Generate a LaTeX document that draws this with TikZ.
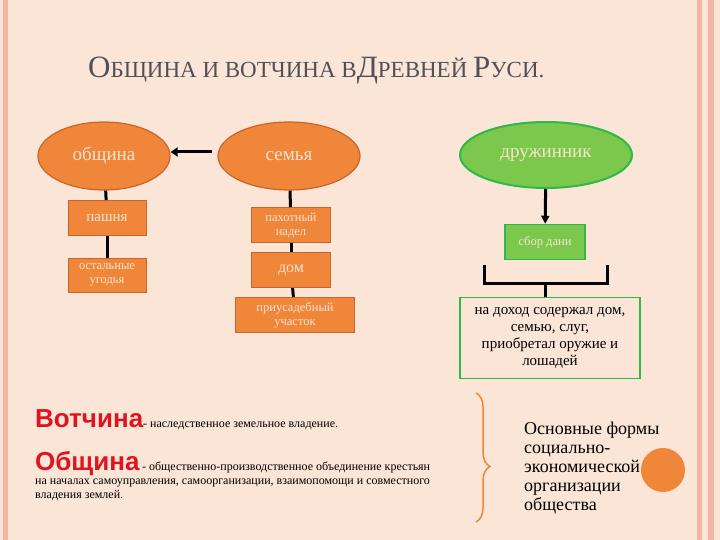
\documentclass[tikz,border=0pt]{standalone}
\usepackage{fontspec}
\setmainfont{Liberation Serif}
\newfontfamily\arialb{Liberation Sans}
\usetikzlibrary{shapes.geometric,arrows.meta,decorations.pathreplacing}
\definecolor{bg}{HTML}{FBE5D6}
\definecolor{pinkb}{HTML}{F4B6A4}
\definecolor{orf}{HTML}{F0863A}
\definecolor{ore}{HTML}{C8652C}
\definecolor{ort}{HTML}{FBE3CF}
\definecolor{grf}{HTML}{7CC84C}
\definecolor{gre}{HTML}{2CB84A}
\definecolor{ttl}{HTML}{505058}
\definecolor{redt}{HTML}{E0141E}
\tikzset{
  oell/.style={ellipse,draw=ore,line width=1.2pt,fill=orf,text=ort,font=\fontsize{19}{21}\selectfont,inner sep=0pt},
  obox/.style={rectangle,draw=ore,line width=1pt,fill=orf,text=ort,font=\fontsize{12.5}{14}\selectfont,align=center,inner sep=0pt},
  conn/.style={line width=3pt,black},
}
\begin{document}
\begin{tikzpicture}[x=1pt,y=-1pt]
\useasboundingbox (0,0) rectangle (720,540);
\fill[bg] (0,0) rectangle (720,540);
\fill[pinkb] (3,0) rectangle (8,540);
\fill[pinkb] (697,0) rectangle (702,540);
\fill[pinkb] (708,0) rectangle (714,540);
\node[anchor=base west,text=ttl,inner sep=0] (title) at (88,78) {\fontsize{31}{33}\selectfont О\fontsize{23}{25}\selectfont БЩИНА И ВОТЧИНА В\fontsize{31}{33}\selectfont Д\fontsize{23}{25}\selectfont РЕВНЕЙ \fontsize{31}{33}\selectfont Р\fontsize{23}{25}\selectfont УСИ.};
\node[oell,minimum width=132,minimum height=68] (obsh) at (104,156) {община};
\node[oell,minimum width=142,minimum height=68] (sem) at (289,156) {семья};
\node[ellipse,draw=gre,line width=2pt,fill=grf,text=ort,font=\fontsize{19}{21}\selectfont,minimum width=172,minimum height=66,inner sep=0pt] (dru) at (546,155) {дружинник};
\node[obox,minimum width=78,minimum height=35,font=\fontsize{15}{17}\selectfont] (pash) at (107,218) {пашня};
\node[obox,minimum width=78,minimum height=34] (ugod) at (107,275) {остальные\\угодья};
\node[obox,minimum width=79,minimum height=35] (pah) at (291,225) {пахотный\\надел};
\node[obox,minimum width=79,minimum height=35,font=\fontsize{16}{18}\selectfont] (dom) at (291,270) {дом};
\node[obox,minimum width=119,minimum height=35] (pri) at (295,315) {приусадебный\\участок};
\node[rectangle,draw=gre,line width=1.5pt,fill=grf,text=ort,font=\fontsize{12.5}{14}\selectfont,minimum width=80,minimum height=35,inner sep=0] (sbor) at (545,242) {сбор дани};
\draw[conn,-{Triangle[length=7pt,width=9pt]}] (sem.west) ++(-5,-4) coordinate (s1) -- (obsh.east |- s1);
\draw[conn] (obsh) -- (pash);
\draw[conn] (pash) -- (ugod);
\draw[conn] (sem) -- (pah);
\draw[conn] (pah) -- (dom);
\draw[conn] (dom) -- (pri);
\draw[conn,-{Triangle[length=8pt,width=8pt]}] (dru) -- (sbor);
\coordinate (bl) at (484,265);
\coordinate (br) at (607,265);
\draw[conn] (bl) -- ++(0,18) -- (br |- 0,283) -- (br);
\node[draw=gre,line width=1.5pt,fill=bg,minimum width=180,minimum height=81,inner sep=0] (inc) at (550,338) {};
\node[align=center,font=\fontsize{15}{17}\selectfont,inner sep=0] (inct) at (550,338) {на доход содержал дом,\\семью, слуг,\\приобретал оружие и\\лошадей};
\draw[conn] (545,283) -- (inc.north -| 545,0);
\node[anchor=base west,inner sep=0] (vot) at (35,427) {{\arialb\bfseries\fontsize{26}{28}\selectfont\color{redt}Вотчина}\fontsize{12}{14}\selectfont - наследственное земельное владение.};
\node[anchor=base west,inner sep=0] (obdef) at (35,470) {{\arialb\bfseries\fontsize{26}{28}\selectfont\color{redt}Община} \fontsize{12}{14}\selectfont - общественно-производственное объединение крестьян};
\node[anchor=north west,align=left,inner sep=0,font=\fontsize{12}{14}\selectfont] (obdef2) at (35,479) {на началах самоуправления, самоорганизации, взаимопомощи и совместного\\владения землей.};
\coordinate (b1) at (476,393);
\coordinate (b2) at (476,522);
\draw[orf,line width=1.5pt,decorate,decoration={brace,amplitude=14pt,aspect=0.57}] (b1) -- (b2);
\node[anchor=north west,align=left,inner sep=0,font=\fontsize{18}{19}\selectfont] (forms) at (524,422) {Основные формы\\ социально-\\экономической\\ организации\\общества};
\fill[orf] (663,470) circle (22);
\end{tikzpicture}
\end{document}
